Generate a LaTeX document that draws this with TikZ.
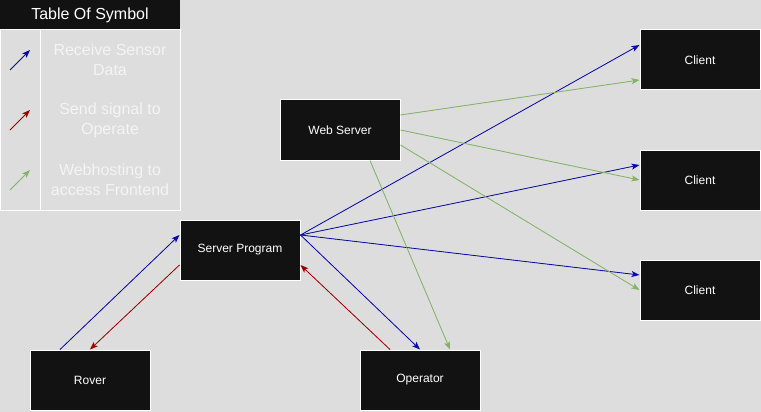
\documentclass[tikz,border=0pt]{standalone}
\usepackage{fontspec}
\setmainfont{Liberation Sans}
\usetikzlibrary{arrows.meta}
\definecolor{bg}{HTML}{DDDDDD}
\definecolor{boxfill}{HTML}{121212}
\definecolor{cblue}{HTML}{0A0AA5}
\definecolor{cred}{HTML}{A00000}
\definecolor{cgreen}{HTML}{82B366}
\definecolor{legtext}{HTML}{F4F4F4}
\tikzset{
  blackbox/.style={draw=white, line width=1pt, fill=boxfill, text=white,
    minimum width=120pt, minimum height=60pt, inner sep=0pt,
    font=\fontsize{12}{14}\selectfont},
  conn/.style={line width=0.8pt, -{Stealth[length=8pt,width=6pt,inset=2pt]}},
  bluearr/.style={conn, draw=cblue, fill=cblue},
  redarr/.style={conn, draw=cred, fill=cred},
  greenarr/.style={conn, draw=cgreen, fill=cgreen},
  legtxt/.style={text=legtext, align=center, font=\fontsize{16}{20}\selectfont}
}
\begin{document}
\begin{tikzpicture}[x=1pt,y=-1pt]
\fill[bg] (0,0) rectangle (761,412);
\useasboundingbox (0,0) rectangle (761,412);
% legend
\fill[boxfill] (0,0) rectangle (180,30);
\node[text=white, font=\fontsize{16}{20}\selectfont] (lhead) at (90,15) {Table Of Symbol};
\draw[white, line width=1pt] (0,30) rectangle (180,210);
\draw[white, line width=1pt] (40,30) -- (40,210);
\coordinate (la1) at (10,70); \coordinate (lb1) at (30,50);
\coordinate (la2) at (10,130); \coordinate (lb2) at (30,110);
\coordinate (la3) at (10,190); \coordinate (lb3) at (30,170);
\draw[bluearr] (la1) -- (lb1);
\draw[redarr] (la2) -- (lb2);
\draw[greenarr] (la3) -- (lb3);
\node[legtxt] (lt1) at (110,60) {Receive Sensor\\Data};
\node[legtxt] (lt2) at (110,120) {Send signal to\\Operate};
\node[legtxt] (lt3) at (110,180) {Webhosting to\\access Frontend};
% boxes
\node[blackbox] (srv) at (240,250) {Server Program};
\node[blackbox] (web) at (340,130) {Web Server};
\node[blackbox] (rover) at (90,380) {Rover};
\node[blackbox] (op) at (420,380) {Operator};
\node[blackbox] (c1) at (700,60) {Client};
\node[blackbox] (c2) at (700,180) {Client};
\node[blackbox] (c3) at (700,290) {Client};
% blue
\draw[bluearr] ([xshift=-30pt]rover.north) -- ([yshift=15pt]srv.west);
\draw[bluearr] ([yshift=15pt]srv.east) -- ([yshift=15pt]c1.west);
\draw[bluearr] ([yshift=15pt]srv.east) -- ([yshift=15pt]c2.west);
\draw[bluearr] ([yshift=15pt]srv.east) -- ([yshift=15pt]c3.west);
\draw[bluearr] ([yshift=15pt]srv.east) -- (op.north);
% red
\draw[redarr] ([yshift=-15pt]srv.west) -- (rover.north);
\draw[redarr] ([xshift=-30pt]op.north) -- ([yshift=-15pt]srv.east);
% green
\draw[greenarr] ([yshift=15pt]web.east) -- ([yshift=-20pt]c1.west);
\draw[greenarr] (web.east) -- (c2.west);
\draw[greenarr] ([yshift=-15pt]web.east) -- (c3.west);
\draw[greenarr] ([xshift=30pt]web.south) -- ([xshift=30pt]op.north);
\end{tikzpicture}
\end{document}
